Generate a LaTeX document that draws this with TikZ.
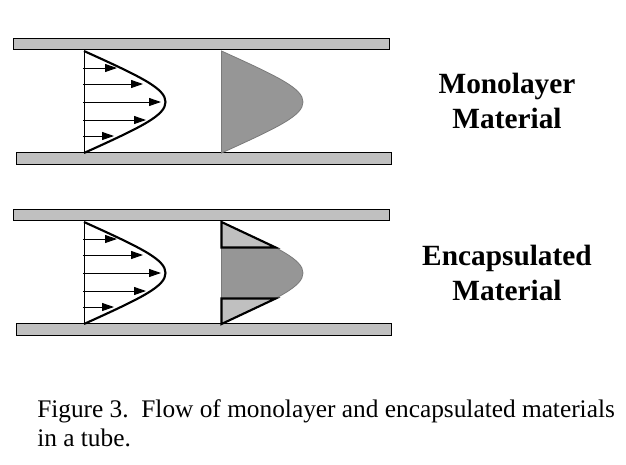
\documentclass[tikz,border=0pt]{standalone}
\usepackage{fontspec}
\setmainfont{Liberation Serif}
\usetikzlibrary{arrows.meta}
\definecolor{tubegray}{HTML}{C0C0C0}
\definecolor{coregray}{HTML}{969696}
\definecolor{rimgray}{HTML}{7A7A7A}

\begin{document}
\begin{tikzpicture}[x=0.75pt, y=-0.75pt, line join=miter]

\useasboundingbox (0,0) rectangle (626,465);

\def\xL{84}   % left profile wall
\def\xR{221.5} % right profile wall
\def\A{81.5}  % profile depth
\def\h{51}    % profile half height

\foreach \yo in {0,171}{
  \begin{scope}[shift={(0,\yo)}]
    % Tube walls
    \draw[fill=tubegray, line width=0.7pt] (13,38) rectangle (389,49.5);
    \draw[fill=tubegray, line width=0.7pt] (16,152.5) rectangle (391,164);

    % Velocity profile with arrows
    \draw[line width=0.7pt] (\xL,102-\h) -- (\xL,102+\h);
    \draw[line width=1.6pt]
      (\xL,102-\h) .. controls (\xL+0.72*\A,102-0.48*\h) and (\xL+\A,102-0.26*\h) .. (\xL+\A,102)
      .. controls (\xL+\A,102+0.26*\h) and (\xL+0.72*\A,102+0.48*\h) .. (\xL,102+\h);
    \foreach \dy/\len in {-34/33, -18/59, 0/77, 18/62, 34/30}{
      \draw[line width=0.7pt, -{Triangle[length=9pt, width=6pt]}]
        (\xL-1,102+\dy) -- (\xL+\len,102+\dy);
    }

    % Material front
    \draw[fill=coregray, draw=rimgray, line width=0.6pt]
      (\xR,102-\h) .. controls (\xR+0.72*\A,102-0.48*\h) and (\xR+\A,102-0.26*\h) .. (\xR+\A,102)
      .. controls (\xR+\A,102+0.26*\h) and (\xR+0.72*\A,102+0.48*\h) .. (\xR,102+\h) -- cycle;
  \end{scope}
}

% Shell layers of the encapsulated material
\draw[fill=tubegray, line width=1.6pt]
  (\xR,171+102-\h) -- (\xR+0.665*\A,171+102-0.5*\h) -- (\xR,171+102-0.5*\h) -- cycle;
\draw[fill=tubegray, line width=1.6pt]
  (\xR,171+102+\h) -- (\xR+0.665*\A,171+102+0.5*\h) -- (\xR,171+102+0.5*\h) -- cycle;

% Labels
\node[
  font=\fontsize{22}{26.5}\selectfont\bfseries,
  align=center,
  inner sep=0pt
] (monolabel) at (507,101) {Monolayer\\Material};
\node[
  font=\fontsize{22}{26.5}\selectfont\bfseries,
  align=center,
  inner sep=0pt
] (encaplabel) at (507,273) {Encapsulated\\Material};

% Caption
\node[
  font=\fontsize{19}{21.5}\selectfont,
  align=left,
  anchor=base west,
  inner sep=0pt
] (caption) at (37,446.5) {Figure 3.\ \ Flow of monolayer and encapsulated materials\\in a tube.};

\end{tikzpicture}
\end{document}
